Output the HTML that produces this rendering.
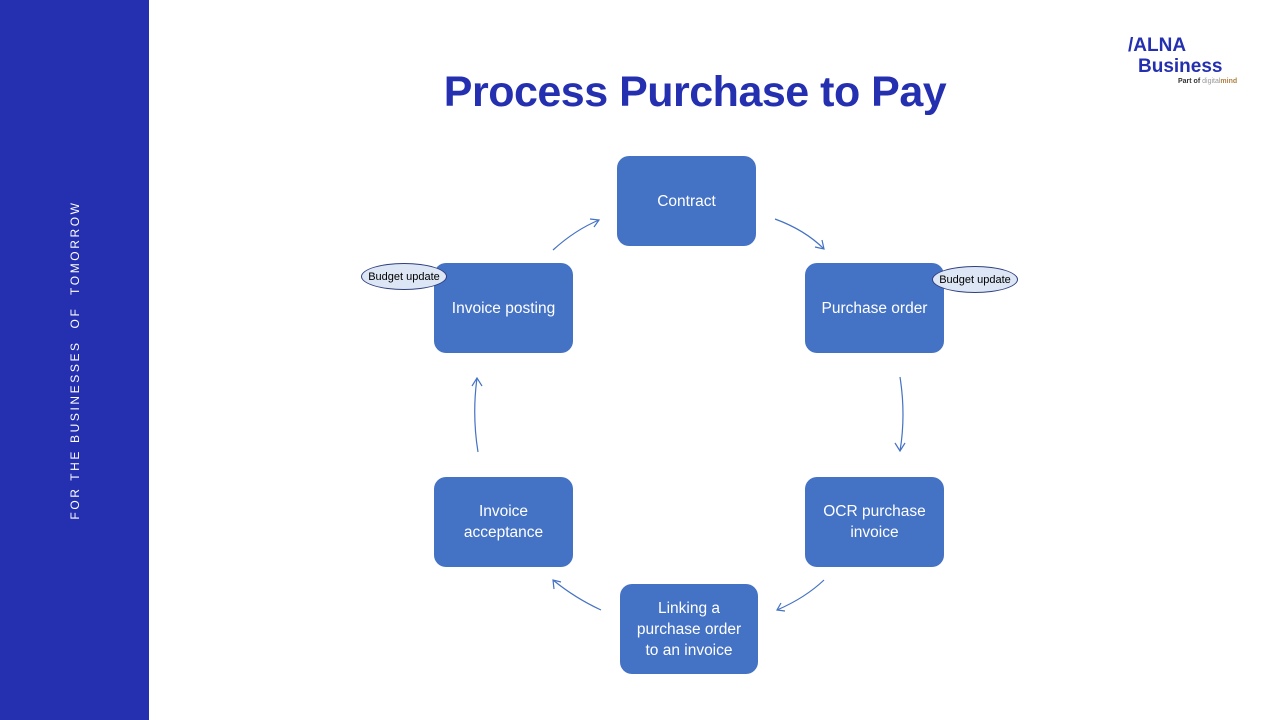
<!DOCTYPE html>
<html><head><meta charset="utf-8"><style>
body{margin:0;width:1280px;height:720px;position:relative;background:#fff;font-family:"Liberation Sans",sans-serif;overflow:hidden}
.side{position:absolute;left:0;top:0;width:149px;height:720px;background:#2430b0}
.vt{position:absolute;left:75px;top:360px;transform:translate(-50%,-50%) rotate(-90deg);color:#fff;font-size:12px;letter-spacing:2.6px;white-space:pre;font-weight:300}
h1{position:absolute;left:394px;width:602px;text-align:center;top:68px;margin:0;font-size:43px;color:#2430b0;font-weight:bold;letter-spacing:-0.5px;white-space:nowrap}
.n{position:absolute;width:139px;height:90px;background:#4472c4;border-radius:12px;color:#fff;font-size:15.5px;display:flex;align-items:center;justify-content:center;text-align:center;line-height:21px}
.e{position:absolute;width:84px;height:25px;border:1px solid #2f3f7f;border-radius:50%;background:#dde6f4;font-size:11px;display:flex;align-items:center;justify-content:center;color:#000}
</style></head><body>
<div class="side"><div class="vt">FOR THE BUSINESSES  OF  TOMORROW</div></div>
<h1>Process Purchase to Pay</h1>
<div style="position:absolute;left:1128px;top:36px;color:#2430b0;font-weight:bold;font-size:19px;line-height:20px">/ALNA</div>
<div style="position:absolute;left:1138px;top:57px;color:#2430b0;font-weight:bold;font-size:19px;line-height:20px">Business</div>
<div style="position:absolute;left:1178px;top:78px;font-size:7px;color:#333;font-weight:bold">Part of <span style="color:#999;font-weight:normal">digital</span><span style="color:#b08040">mind</span></div>
<div class="n" style="left:617px;top:156px">Contract</div>
<div class="n" style="left:805px;top:263px">Purchase order</div>
<div class="n" style="left:805px;top:477px">OCR purchase<br>invoice</div>
<div class="n" style="left:620px;top:584px;width:138px">Linking a<br>purchase order<br>to an invoice</div>
<div class="n" style="left:434px;top:477px">Invoice<br>acceptance</div>
<div class="n" style="left:434px;top:263px">Invoice posting</div>
<div class="e" style="left:361px;top:263px">Budget update</div>
<div class="e" style="left:932px;top:266px">Budget update</div>
<svg width="1280" height="720" style="position:absolute;left:0;top:0" fill="none" stroke="#4472c4" stroke-width="1.2">
<path d="M553 250 Q575 230 599 220"/><path d="M590 219 L599 220 L594 227"/>
<path d="M775 219 Q805 230 824 249"/><path d="M815 247 L824 249 L822 240"/>
<path d="M900 377 Q906 415 900 451"/><path d="M895 443 L900 451 L905 443"/>
<path d="M824 580 Q805 598 777 610"/><path d="M781 603 L777 610 L785 611"/>
<path d="M601 610 Q575 598 553 580"/><path d="M554 589 L553 580 L561 582"/>
<path d="M478 452 Q472 415 477 378"/><path d="M472 386 L477 378 L482 386"/>
</svg>
</body></html>
